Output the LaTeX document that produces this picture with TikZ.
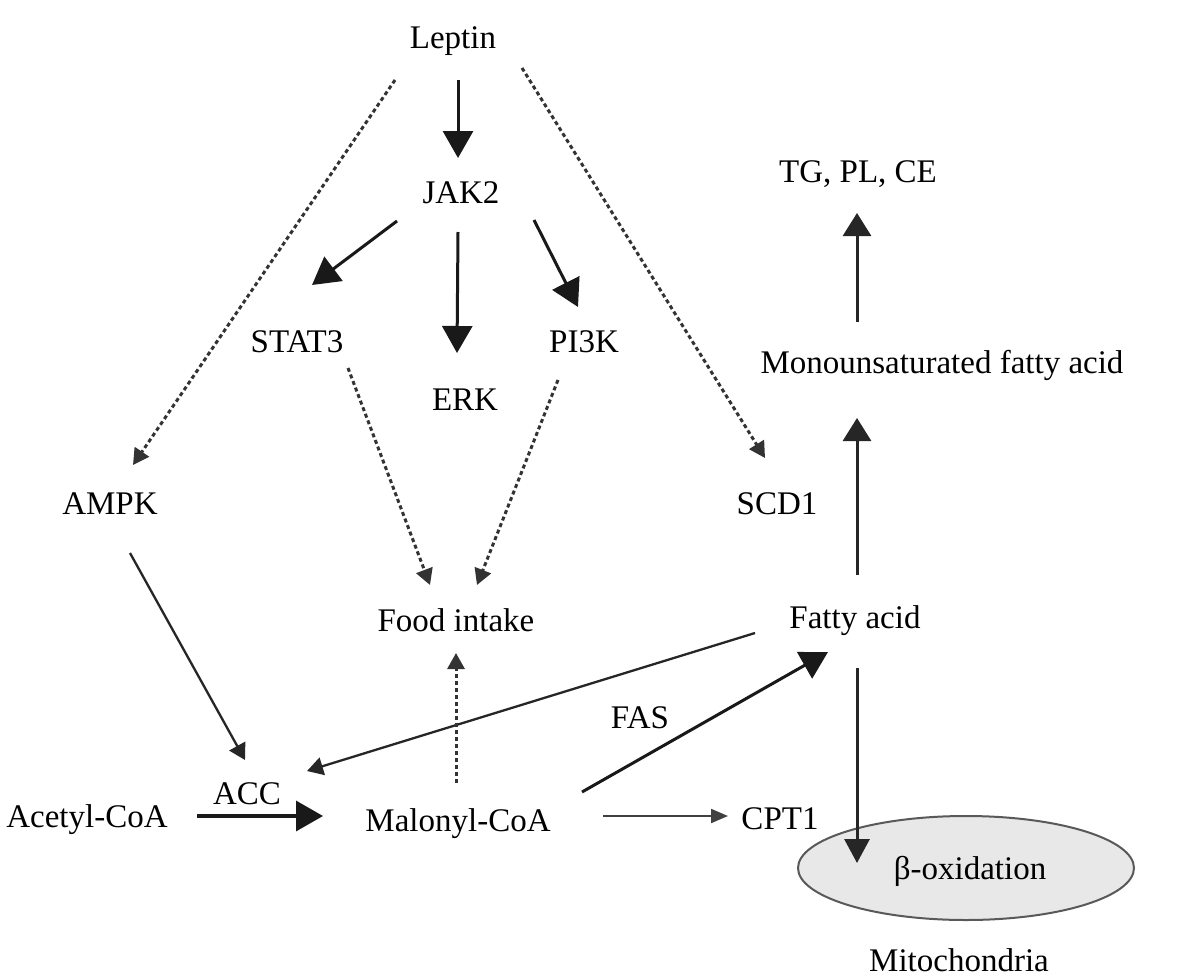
\documentclass[tikz,border=0pt]{standalone}
\usepackage{fontspec}
\setmainfont{Liberation Serif}
\usetikzlibrary{arrows.meta,calc,shapes.geometric}
\begin{document}
\begin{tikzpicture}[x=1pt,y=-1pt,
  lbl/.style={inner sep=0pt,text height=22pt,text depth=0pt,font=\fontsize{33}{38}\selectfont},
  bigarr/.style={draw=black!90,line width=3pt,-{Triangle[length=27pt,width=30pt]}},
  medarr/.style={draw=black!85,line width=2.3pt,-{Triangle[length=16pt,width=18pt]}},
  thinarr/.style={draw=black!75,line width=2pt,-{Triangle[length=17pt,width=14pt]}},
  vertarr/.style={draw=black!85,line width=3pt,-{Triangle[length=23pt,width=28pt]}},
  dotarr/.style={draw=black!80,line width=3pt,dash pattern=on 4pt off 3pt,-{Triangle[length=16pt,width=17pt,sep=0pt]}},
]
\useasboundingbox (0,0) rectangle (1181,977);
\fill[white] (0,0) rectangle (1181,977);
% ellipse
\node[ellipse,draw=black!65,line width=2pt,fill=black!9,minimum width=336pt,minimum height=104pt,inner sep=0pt] (beta) at (966,868) {};
\node[lbl] (betatxt) at (970,868) {β-oxidation};
% labels
\node[lbl] (leptin) at (453,37) {Leptin};
\node[lbl] (jak2) at (461,192) {JAK2};
\node[lbl] (stat3) at (297,341) {STAT3};
\node[lbl] (erk) at (465,399) {ERK};
\node[lbl] (pi3k) at (584,341) {PI3K};
\node[lbl] (ampk) at (110,503) {AMPK};
\node[lbl] (scd1) at (777,503) {SCD1};
\node[lbl] (food) at (456,620) {Food intake};
\node[lbl] (fatty) at (855,617) {Fatty acid};
\node[lbl] (tg) at (858,171) {TG, PL, CE};
\node[lbl] (mono) at (942,362) {Monounsaturated fatty acid};
\node[lbl] (acc) at (247,793) {ACC};
\node[lbl] (acetyl) at (87,816) {Acetyl-CoA};
\node[lbl] (malonyl) at (458,820) {Malonyl-CoA};
\node[lbl] (cpt1) at (780,818) {CPT1};
\node[lbl] (fas) at (640,717) {FAS};
\node[lbl] (mito) at (959,960) {Mitochondria};
% connectors
\draw[bigarr] ($(leptin)+(5,43)$) -- ($(jak2)+(-3,-34)$);
\draw[bigarr] ($(jak2)+(-64,29)$) -- ($(stat3)+(15,-56)$);
\draw[bigarr] ($(jak2)+(-3,40)$) -- ($(erk)+(-8,-46)$);
\draw[bigarr] ($(jak2)+(73,28)$) -- ($(pi3k)+(-6,-34)$);
\draw[dotarr] ($(leptin)+(-58,43)$) -- ($(ampk)+(23,-38)$);
\draw[dotarr] ($(leptin)+(69,31)$) -- ($(scd1)+(-12,-45)$);
\draw[dotarr] ($(stat3)+(51,27)$) -- ($(food)+(-26,-35)$);
\draw[dotarr] ($(pi3k)+(-26,39)$) -- ($(food)+(21,-35)$);
\draw[medarr] ($(ampk)+(20,50)$) -- ($(acc)+(-2,-33)$);
\draw[medarr] ($(fatty)+(-100,16)$) -- ($(acc)+(60,-22)$);
\draw[dotarr] ($(malonyl)+(-2,-37)$) -- ($(food)+(0,33)$);
\draw[bigarr,line width=3.5pt] ($(acetyl)+(110,0)$) -- ($(malonyl)+(-135,-4)$);
\draw[bigarr] ($(malonyl)+(124,-28)$) -- ($(fatty)+(-27,35)$);
\draw[thinarr] ($(malonyl)+(145,-4)$) -- ($(cpt1)+(-52,-2)$);
\draw[vertarr,-{Triangle[length=24pt,width=25pt]}] ($(fatty)+(2,51)$) -- ($(beta)+(-109,-5)$);
\draw[vertarr] ($(fatty)+(2,-42)$) -- ($(mono)+(-85,56)$);
\draw[vertarr] ($(mono)+(-85,-40)$) -- ($(tg)+(-1,42)$);
\end{tikzpicture}
\end{document}
